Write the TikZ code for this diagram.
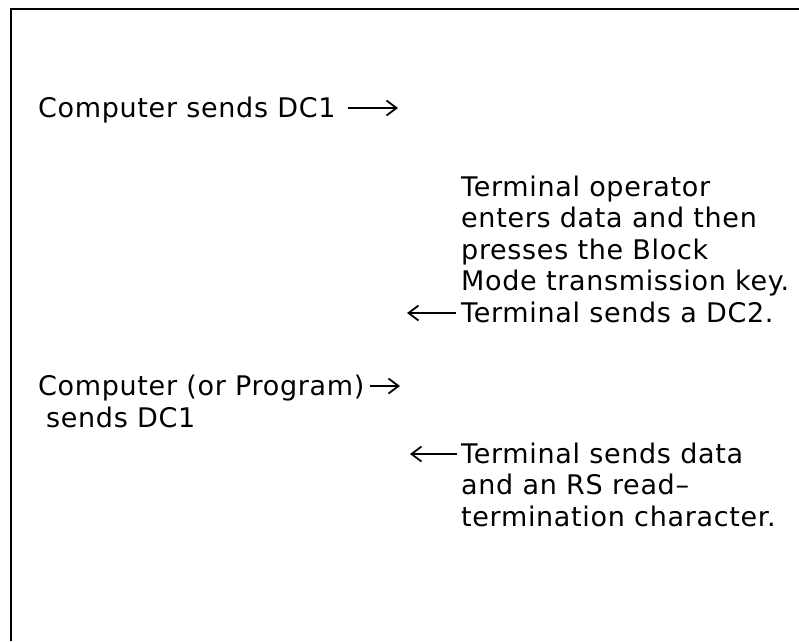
\documentclass[tikz,border=0pt]{standalone}
\usepackage{fontspec}
\setmainfont{DejaVu Sans}[LetterSpace=2.5]
\usetikzlibrary{arrows.meta,calc}
\begin{document}
\begin{tikzpicture}[x=1pt,y=-1pt,
  txt/.style={anchor=base west,inner sep=0pt,font=\fontsize{27}{27}\selectfont},
  arr/.style={line width=1.8pt,-{Straight Barb[length=10pt,width=15pt,line width=1.8pt]}},
  frame/.style={line width=2.4pt}]
\useasboundingbox (0,0) rectangle (799,641);
\draw[frame] (11,641) -- (11,9) -- (799,9);
% left column
\node[txt] (c1) at (38,117) {Computer sends DC1};
\coordinate (t1) at (398,108);
\draw[arr] ($(c1.base east)+(12,-9)$) -- (t1);
\node[txt] (c2) at (38,395) {Computer (or Program)};
\coordinate (t2) at (400,386);
\draw[arr] ($(c2.base east)+(5,-9)$) -- (t2);
\node[txt] (c3) at (46,427) {sends DC1};
% right column
\node[txt] (r1) at (461,196) {Terminal operator};
\node[txt] (r2) at (461,227) {enters data and then};
\node[txt] (r3) at (461,259) {presses the Block};
\node[txt] (r4) at (461,290) {Mode transmission key.};
\node[txt] (r5) at (461,322) {Terminal sends a DC2.};
\coordinate (t5) at (407,313);
\draw[arr] ($(r5.base west)+(-5,-9)$) -- (t5);
\node[txt] (r6) at (461,463) {Terminal sends data};
\coordinate (t6) at (410,454);
\draw[arr] ($(r6.base west)+(-4,-9)$) -- (t6);
\node[txt] (r7) at (461,494) {and an RS read–};
\node[txt] (r8) at (461,526) {termination character.};
\end{tikzpicture}
\end{document}
